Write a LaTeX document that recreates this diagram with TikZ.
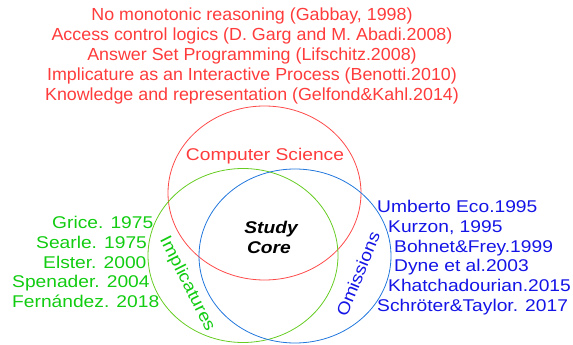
\documentclass[tikz,border=0pt]{standalone}
\usepackage{fontspec}
\setmainfont{Liberation Sans}
\newfontfamily\titlefont{Liberation Sans}[FakeStretch=1.02]
\newfontfamily\labelfont{Liberation Sans}[FakeStretch=1.13]
\definecolor{cstext}{HTML}{FF3B3B}
\definecolor{csline}{HTML}{FF4A4A}
\definecolor{imptext}{HTML}{11CC11}
\definecolor{impline}{HTML}{66CC22}
\definecolor{omtext}{HTML}{1414E6}
\definecolor{omline}{HTML}{2277DD}
\begin{document}
\begin{tikzpicture}[x=1pt,y=-1pt,
    set/.style={line width=0.8pt},
    cite/.style={inner sep=0pt,font=\labelfont\fontsize{17}{20}\selectfont},
    citecs/.style={inner sep=0pt,anchor=base,text=cstext,font=\titlefont\fontsize{17.5}{20}\selectfont},
    citeimp/.style={cite,anchor=base west,text=imptext},
    citeom/.style={cite,anchor=base west,text=omtext},
    setname/.style={cite,anchor=base}]
  \useasboundingbox (0,0) rectangle (573,345);
  % the three sets
  \draw[set,csline] (264.5,193) ellipse [x radius=96.5, y radius=87];
  \draw[set,impline] (243,255.5) ellipse [x radius=95, y radius=87];
  \draw[set,omline] (295,256) ellipse [x radius=96, y radius=87];
  % computer science references
  \foreach \t [count=\i] in {{No monotonic reasoning (Gabbay, 1998)},
      {Access control logics (D. Garg and M. Abadi.2008)},
      {Answer Set Programming (Lifschitz.2008)},
      {Implicature as an Interactive Process (Benotti.2010)},
      {Knowledge and representation (Gelfond\&Kahl.2014)}}
    \node[citecs] (cs\i) at (252,0.6+19.9*\i) {\t};
  % implicature references
  \foreach \x/\y/\t [count=\i] in {52/228/{Grice. 1975}, 36/248/{Searle. 1975},
      43/268/{Elster. 2000}, 12/287/{Spenader. 2004}, 12/307/{Fernández. 2018}}
    \node[citeimp] (imp\i) at (\x,\y) {\t};
  % omission references
  \foreach \x/\y/\t [count=\i] in {377/212/{Umberto Eco.1995}, 388/232/{Kurzon, 1995},
      394/252/{Bohnet\&Frey.1999}, 394/271/{Dyne et al.2003},
      388/291/{Khatchadourian.2015}, 377/311/{Schröter\&Taylor. 2017}}
    \node[citeom] (om\i) at (\x,\y) {\t};
  % set names
  \node[setname,text=cstext] (csname) at (265,160.5) {Computer Science};
  \node[cite,text=imptext,rotate=-63] (impname) at (187,284) {Implicatures};
  \node[cite,text=omtext,rotate=68] (omname) at (358,274) {Omissions};
  \node[setname,font=\labelfont\fontsize{17}{20}\selectfont\bfseries\itshape] (study) at (271,233) {Study};
  \node[setname,font=\labelfont\fontsize{17}{20}\selectfont\bfseries\itshape] (core) at (269,253) {Core};
\end{tikzpicture}
\end{document}
